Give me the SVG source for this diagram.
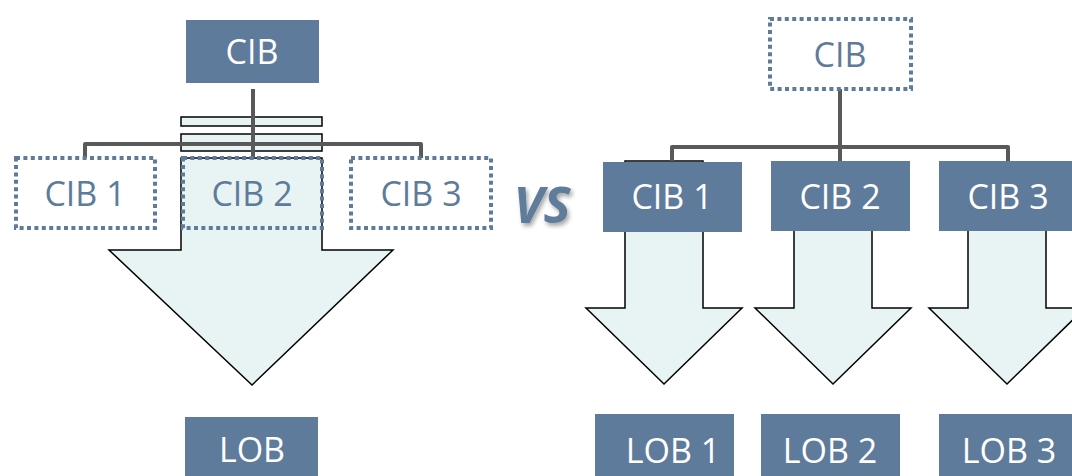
<svg xmlns="http://www.w3.org/2000/svg" width="1072" height="476" viewBox="0 0 1072 476">
  <defs>
    <style>
      .box { fill: #5E7B9B; }
      .dot { fill: none; stroke: #5E7B9B; stroke-width: 4; stroke-dasharray: 4 3.4; }
      .wt { font-family: "Open Sans", "Liberation Sans", sans-serif; font-size: 34px; fill: #FFFFFF; text-anchor: middle; }
      .bt { font-family: "Open Sans", "Liberation Sans", sans-serif; font-size: 34px; fill: #5E7B9B; text-anchor: middle; }
      .arrow { fill: #E8F4F4; stroke: #000000; stroke-width: 1.5; stroke-linejoin: miter; }
      .bar { fill: #E8F4F4; stroke: #000000; stroke-width: 1.5; }
      .conn { fill: none; stroke: #595959; stroke-width: 4; stroke-linejoin: round; }
      .vs { font-family: "Open Sans", "Liberation Sans", sans-serif; font-size: 51px; font-weight: bold; font-style: italic; fill: #5E7B9B; text-anchor: middle; }
    </style>
    <filter id="shadow" x="-20%" y="-20%" width="150%" height="150%">
      <feDropShadow dx="2" dy="3" stdDeviation="2" flood-color="#000000" flood-opacity="0.35"/>
    </filter>
  </defs>

  <!-- Left: single CIB feeding one LOB -->
  <g id="left-flow">
    <rect class="bar" x="181" y="117" width="141" height="9"/>
    <rect class="bar" x="181" y="134" width="141" height="17"/>
    <path class="arrow" d="M181,158 H322 V250 H393 L252,385 L109,250 H181 Z"/>
  </g>

  <!-- Right: one flow per CIB -->
  <g id="right-flows">
    <path class="arrow" d="M625,161 H703 V308 H742 L664,384 L586,308 H625 Z"/>
    <path class="arrow" d="M794,163 H872 V308 H911 L833,384 L755,308 H794 Z"/>
    <path class="arrow" d="M968,163 H1046 V308 H1085 L1007,384 L929,308 H968 Z"/>
  </g>

  <g id="connectors">
    <path class="conn" d="M253,89 V158"/>
    <path class="conn" d="M85,158 V144 H421 V158"/>
    <path class="conn" d="M840,89 V161"/>
    <path class="conn" d="M672,161 V147 H1008 V161"/>
  </g>

  <g id="cib-left">
    <rect class="box" x="186" y="20" width="133" height="63"/>
    <text class="wt" x="252" y="64">CIB</text>
  </g>
  <g id="cib1-left">
    <rect class="dot" x="16" y="158" width="139" height="70"/>
    <text class="bt" x="85" y="206">CIB 1</text>
  </g>
  <g id="cib2-left">
    <rect class="dot" x="183" y="158" width="139" height="70"/>
    <text class="bt" x="252" y="206">CIB 2</text>
  </g>
  <g id="cib3-left">
    <rect class="dot" x="351" y="158" width="140" height="70"/>
    <text class="bt" x="421" y="206">CIB 3</text>
  </g>
  <g id="lob-left">
    <rect class="box" x="185" y="417" width="133" height="63"/>
    <text class="wt" x="252" y="462">LOB</text>
  </g>

  <g id="vs">
    <text class="vs" x="542" y="223" filter="url(#shadow)">VS</text>
  </g>

  <g id="cib-right">
    <rect class="dot" x="770" y="19" width="141" height="70"/>
    <text class="bt" x="840" y="67">CIB</text>
  </g>
  <g id="cib1-right">
    <rect class="box" x="603" y="162" width="139" height="70"/>
    <text class="wt" x="672" y="209">CIB 1</text>
  </g>
  <g id="cib2-right">
    <rect class="box" x="771" y="161" width="139" height="70"/>
    <text class="wt" x="840" y="209">CIB 2</text>
  </g>
  <g id="cib3-right">
    <rect class="box" x="939" y="161" width="139" height="70"/>
    <text class="wt" x="1008" y="209">CIB 3</text>
  </g>
  <g id="lob1-right">
    <rect class="box" x="595" y="414" width="139" height="66"/>
    <text class="wt" x="673" y="463">LOB 1</text>
  </g>
  <g id="lob2-right">
    <rect class="box" x="761" y="414" width="139" height="66"/>
    <text class="wt" x="830" y="463">LOB 2</text>
  </g>
  <g id="lob3-right">
    <rect class="box" x="939" y="414" width="139" height="66"/>
    <text class="wt" x="1009" y="463">LOB 3</text>
  </g>
</svg>
